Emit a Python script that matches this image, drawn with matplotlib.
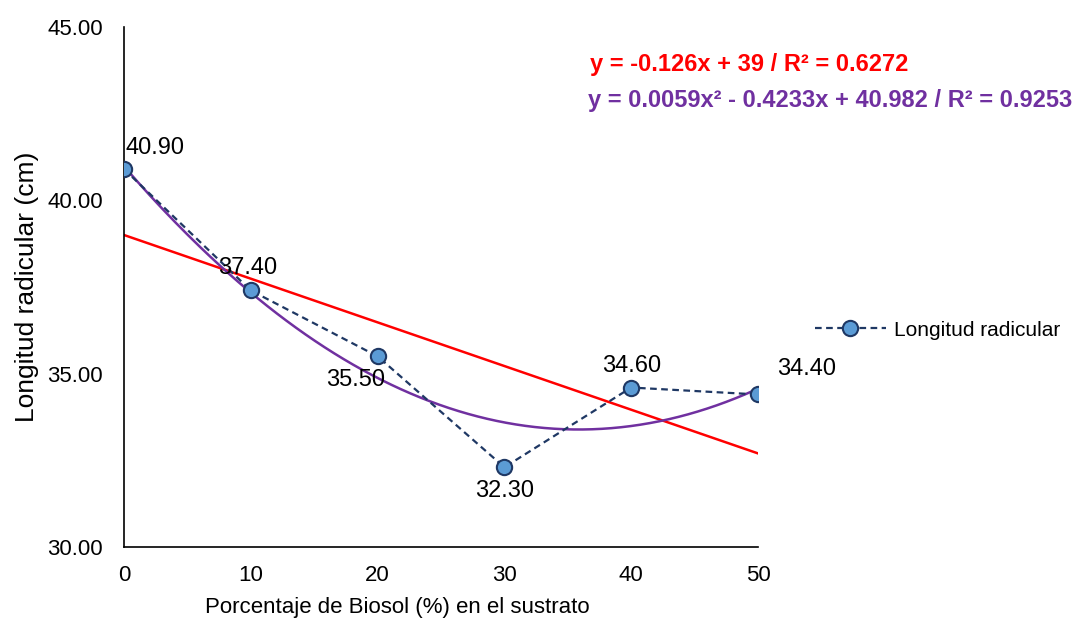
import matplotlib
matplotlib.use("Agg")
import matplotlib.pyplot as plt
import numpy as np

plt.rcParams['font.family'] = ['Liberation Sans', 'DejaVu Sans']

x_vals = [0, 10, 20, 30, 40, 50]
y_vals = [40.90, 37.40, 35.50, 32.30, 34.60, 34.40]
labels = ["40.90", "37.40", "35.50", "32.30", "34.60", "34.40"]
label_offsets = [(31, 21), (-3, 22), (-22, -24), (0, -24), (0, 22), (49, 25)]
lin_coef = [-0.126, 39]
quad_coef = [0.0059, -0.4233, 40.982]
yticks = [30, 35, 40, 45]
xticks = [0, 10, 20, 30, 40, 50]

fig = plt.figure(figsize=(10.83, 6.26), dpi=100)
ax = fig.add_axes([124/1083, 1-547/626, (758-124)/1083, (547-27)/626])

ax.plot(x_vals, y_vals, linestyle=(0, (3, 2)), color='#1F3864', linewidth=1.6,
        marker='o', markersize=11, markerfacecolor='#5B9BD5',
        markeredgecolor='#1F3864', markeredgewidth=1.5, label='Longitud radicular', zorder=3)

xs = np.linspace(0, 50, 200)
ax.plot(xs, np.polyval(lin_coef, xs), color='#FF0000', linewidth=1.8, zorder=2)
ax.plot(xs, np.polyval(quad_coef, xs), color='#7030A0', linewidth=1.8, zorder=2)

for xv, yv, lab, off in zip(x_vals, y_vals, labels, label_offsets):
    ax.annotate(lab, (xv, yv), xytext=off, textcoords='offset pixels',
                ha='center', va='center', fontsize=17, color='#000000', zorder=4)

ax.set_xlim(0, 50)
ax.set_ylim(30, 45)
ax.set_xticks(xticks)
ax.set_yticks(yticks)
ax.set_yticklabels([f"{t:.2f}" for t in yticks])
ax.tick_params(axis='both', length=0, labelsize=16)
ax.tick_params(axis='x', pad=13)
ax.tick_params(axis='y', pad=15)
for s in ['top', 'right']:
    ax.spines[s].set_visible(False)
for s in ['left', 'bottom']:
    ax.spines[s].set_color('#000000')
    ax.spines[s].set_linewidth(1.2)
ax.set_xlabel('Porcentaje de Biosol (%) en el sustrato', fontsize=16)
ax.xaxis.set_label_coords((397-124)/634, -(607-547)/520)
ax.xaxis.label.set_va('center')
ax.set_ylabel('Longitud radicular (cm)', fontsize=19, labelpad=6)

fig.text(590/1083, 1-65/626, 'y = -0.126x + 39 / R² = 0.6272', color='#FF0000',
         fontsize=17, fontweight='bold', va='center', ha='left')
fig.text(588/1083, 1-101/626, 'y = 0.0059x² - 0.4233x + 40.982 / R² = 0.9253', color='#7030A0',
         fontsize=17, fontweight='bold', va='center', ha='left')

leg = ax.legend(loc='center left', bbox_to_anchor=(815/1083, 1-330/626),
                bbox_transform=fig.transFigure, frameon=False, fontsize=15,
                handlelength=3.4, handletextpad=0.4, borderpad=0, borderaxespad=0)

fig.savefig('out.png', dpi=100)
